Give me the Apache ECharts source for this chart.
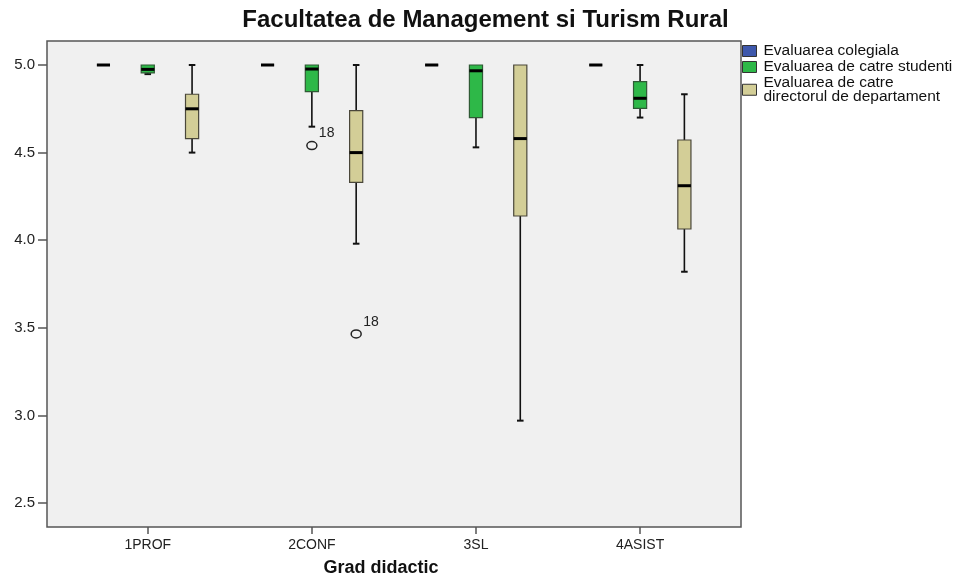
<!DOCTYPE html>
<html>
<head>
<meta charset="utf-8">
<script src="https://cdn.jsdelivr.net/npm/echarts@6/dist/echarts.min.js"></script>
<style>html,body{margin:0;padding:0;background:#fff;overflow:hidden;}#c{width:971px;height:576px;}</style>
</head>
<body>
<div id="c"></div>
<script>
// ---- data ----
var categories = ['1PROF', '2CONF', '3SL', '4ASIST'];
var seriesNames = ['Evaluarea colegiala', 'Evaluarea de catre studenti', 'Evaluarea de catre directorul de departament'];
// each entry: [min, Q1, median, Q3, max]
var colegiala = [[5.0, 5.0, 5.0, 5.0, 5.0], [5.0, 5.0, 5.0, 5.0, 5.0], [5.0, 5.0, 5.0, 5.0, 5.0], [5.0, 5.0, 5.0, 5.0, 5.0]];
var studenti = [[4.948, 4.955, 4.975, 5.0, 5.0], [4.648, 4.848, 4.977, 5.0, 5.0], [4.53, 4.70, 4.967, 5.0, 5.0], [4.70, 4.753, 4.81, 4.905, 5.0]];
var director = [[4.50, 4.58, 4.75, 4.833, 5.0], [3.98, 4.33, 4.50, 4.74, 5.0], [2.97, 4.138, 4.58, 5.0, 5.0], [3.82, 4.064, 4.311, 4.572, 4.833]];
// outliers: [category index, value, case label]
var studentiOutliers = [[1, 4.54, '18']];
var directorOutliers = [[1, 3.465, '18']];
var yTicks = [2.5, 3.0, 3.5, 4.0, 4.5, 5.0];

// ---- styles ----
var FONT = '"Liberation Sans", Arial, Helvetica, sans-serif';
var fills = ['#3E58AC', '#2EB848', '#D3CE97'];
var borders = ['#2a2a2a', '#2f5a35', '#4a473a'];
var offsets = [-0.27, 0, 0.27];

function boxRenderer(k) {
  return function (params, api) {
    var idx = api.value(0);
    var bw = api.size([1, 0])[0];
    var dx = offsets[k] * bw;
    var half = bw * 0.04;
    var cap = bw * 0.02;
    function P(v) { var p = api.coord([idx, v]); return [p[0] + dx, p[1]]; }
    var pMin = P(api.value(1)), pQ1 = P(api.value(2)), pMed = P(api.value(3)), pQ3 = P(api.value(4)), pMax = P(api.value(5));
    var cx = pMed[0];
    var line = { stroke: '#111', lineWidth: 1.6 };
    var children = [];
    if (pMax[1] < pQ3[1] - 0.5) {
      children.push({ type: 'line', shape: { x1: cx, y1: pMax[1], x2: cx, y2: pQ3[1] }, style: line });
      children.push({ type: 'line', shape: { x1: cx - cap, y1: pMax[1], x2: cx + cap, y2: pMax[1] }, style: { stroke: '#111', lineWidth: 2 } });
    }
    if (pMin[1] > pQ1[1] + 0.5) {
      children.push({ type: 'line', shape: { x1: cx, y1: pQ1[1], x2: cx, y2: pMin[1] }, style: line });
      children.push({ type: 'line', shape: { x1: cx - cap, y1: pMin[1], x2: cx + cap, y2: pMin[1] }, style: { stroke: '#111', lineWidth: 2 } });
    }
    children.push({ type: 'rect', shape: { x: cx - half, y: pQ3[1], width: half * 2, height: pQ1[1] - pQ3[1] },
      style: { fill: fills[k], stroke: borders[k], lineWidth: 1.2 } });
    children.push({ type: 'line', shape: { x1: cx - half, y1: pMed[1], x2: cx + half, y2: pMed[1] }, style: { stroke: '#000', lineWidth: 3 } });
    return { type: 'group', children: children };
  };
}
function outlierRenderer(k) {
  return function (params, api) {
    var bw = api.size([1, 0])[0];
    var p = api.coord([api.value(0), api.value(1)]);
    var x = p[0] + offsets[k] * bw;
    return { type: 'group', children: [
      { type: 'ellipse', shape: { cx: x, cy: p[1], rx: 5, ry: 4 }, style: { fill: 'none', stroke: '#222', lineWidth: 1.5 } },
      { type: 'text', x: x + 7, y: p[1] - 12, style: { text: api.value(2), fill: '#222', font: '14px ' + FONT, textVerticalAlign: 'middle' } }
    ] };
  };
}
function toItems(arr) { return arr.map(function (d, i) { return [i].concat(d); }); }

var boxData = [colegiala, studenti, director];
var series = boxData.map(function (arr, k) {
  return {
    type: 'custom', name: seriesNames[k], renderItem: boxRenderer(k),
    itemStyle: { color: fills[k] },
    encode: { x: 0, y: [1, 2, 3, 4, 5] },
    data: toItems(arr), z: 3
  };
});
series.push({ type: 'custom', name: 'out_s', renderItem: outlierRenderer(1), encode: { x: 0, y: 1 },
  dimensions: ['x', 'y', { name: 'lab', type: 'ordinal' }], data: studentiOutliers, z: 4 });
series.push({ type: 'custom', name: 'out_d', renderItem: outlierRenderer(2), encode: { x: 0, y: 1 },
  dimensions: ['x', 'y', { name: 'lab', type: 'ordinal' }], data: directorOutliers, z: 4 });

var chart = echarts.init(document.getElementById('c'), null, { renderer: 'canvas' });
chart.setOption({
  animation: false,
  backgroundColor: '#ffffff',
  title: {
    text: 'Facultatea de Management si Turism Rural', left: 'center', top: 3,
    textStyle: { fontFamily: FONT, fontSize: 24, fontWeight: 'bold', color: '#111' }
  },
  legend: {
    data: seriesNames, orient: 'vertical', left: 742, top: 43, padding: 0,
    icon: 'rect', itemWidth: 14, itemHeight: 11, itemGap: 0,
    itemStyle: { borderColor: '#333', borderWidth: 1 },
    formatter: function (n) { return n === seriesNames[2] ? 'Evaluarea de catre\ndirectorul de departament' : n; },
    textStyle: { fontFamily: FONT, fontSize: 15.5, lineHeight: 13.5, color: '#111', padding: [0, 0, 0, 2] },
    selectedMode: false
  },
  grid: { left: 47, right: 230, top: 41, bottom: 49, show: true, backgroundColor: '#F0F0F0', borderColor: '#555', borderWidth: 1.5,
    outerBoundsMode: 'none', containLabel: false },
  xAxis: {
    type: 'value', min: -0.614, max: 3.615,
    name: 'Grad didactic', nameLocation: 'middle', nameGap: 32,
    nameTextStyle: { fontFamily: FONT, fontSize: 18, fontWeight: 'bold', color: '#111', padding: [0, 26, 0, 0] },
    axisLine: { show: false, onZero: false }, splitLine: { show: false },
    axisTick: { show: true, length: 7, customValues: [0, 1, 2, 3], lineStyle: { color: '#555', width: 1.5 } },
    axisLabel: { customValues: [0, 1, 2, 3], margin: 11, fontFamily: FONT, fontSize: 14, color: '#222',
      formatter: function (v) { return categories[Math.round(v)] || ''; } }
  },
  yAxis: {
    type: 'value', min: 2.363, max: 5.137,
    axisLine: { show: false, onZero: false }, splitLine: { show: false },
    axisTick: { show: true, length: 9, customValues: yTicks, lineStyle: { color: '#555', width: 1.5 } },
    axisLabel: { customValues: yTicks, margin: 12, fontFamily: FONT, fontSize: 15, color: '#222',
      formatter: function (v) { return Number(v).toFixed(1); } }
  },
  series: series
});
</script>
</body>
</html>
